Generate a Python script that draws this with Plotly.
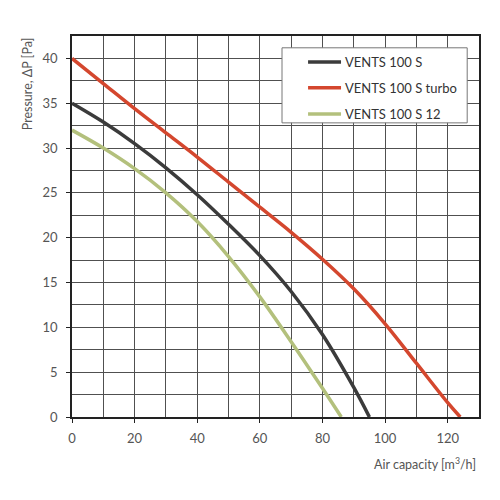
import plotly.graph_objects as go

# fan curves
x_100s = [0, 10, 20, 30, 40, 50, 60, 70, 80, 90, 95]
p_100s = [35, 32.9, 30.5, 27.8, 24.8, 21.5, 18.0, 14.0, 9.2, 3.3, 0]

x_turbo = [0, 10, 20, 30, 40, 50, 60, 70, 80, 90, 100, 110, 120, 124]
p_turbo = [40, 37.2, 34.4, 31.7, 29, 26.2, 23.4, 20.6, 17.6, 14.3, 10.4, 6.0, 1.6, 0]

x_12 = [0, 10, 20, 30, 40, 50, 60, 70, 80, 86]
p_12 = [32, 30.0, 27.7, 25.0, 21.8, 17.9, 13.4, 8.4, 3.2, 0]

names = ["VENTS 100 S", "VENTS 100 S turbo", "VENTS 100 S 12"]
colors = ["#3b3b3b", "#d4472e", "#b3c07c"]

fig = go.Figure()
for xs, ys, name, c in zip([x_100s, x_turbo, x_12], [p_100s, p_turbo, p_12], names, colors):
    fig.add_trace(go.Scatter(x=xs, y=ys, name=name, mode="lines", showlegend=False,
                             line=dict(color=c, width=3.5, shape="spline", smoothing=1.0)))

grid = "#505050"
fig.update_xaxes(range=[0, 130], dtick=20, tick0=0, showgrid=True, gridcolor=grid, gridwidth=1.2,
                 minor=dict(dtick=10, showgrid=True, gridcolor=grid, gridwidth=1.2),
                 showline=True, linecolor="#222", linewidth=1.6, mirror=True,
                 ticks="outside", ticklen=4, tickcolor="#222", zeroline=False,
                 ticklabelstandoff=5, tickfont=dict(size=13, color="#555"))
fig.update_yaxes(range=[0, 42.5], dtick=5, tick0=0, showgrid=True, gridcolor=grid, gridwidth=1.2,
                 minor=dict(dtick=2.5, showgrid=True, gridcolor=grid, gridwidth=1.2),
                 showline=True, linecolor="#222", linewidth=1.6, mirror=True,
                 ticks="outside", ticklen=4, tickcolor="#222", zeroline=False,
                 ticklabelstandoff=6, tickfont=dict(size=13, color="#555"))

fig.add_annotation(text="Pressure, ΔP [Pa]", xref="paper", yref="paper", x=-0.11, y=0.874,
                   xanchor="center", yanchor="middle",
                   textangle=-90, showarrow=False, font=dict(size=12.5, color="#555"))
fig.add_annotation(text="Air capacity [m<sup>3</sup>/h]", xref="paper", yref="paper", x=0.998, y=-0.121,
                   xanchor="right", yanchor="middle", showarrow=False, font=dict(size=12.5, color="#555"))

# legend box drawn by hand
fig.add_shape(type="rect", xref="paper", yref="paper", x0=0.516, x1=0.971, y0=0.772, y1=0.969,
              fillcolor="white", line=dict(color="#777", width=1), layer="above")
for name, c, yy in zip(names, colors, [0.932, 0.864, 0.795]):
    fig.add_shape(type="line", xref="paper", yref="paper", x0=0.580, x1=0.661, y0=yy, y1=yy,
                  line=dict(color=c, width=3.5), layer="above")
    fig.add_annotation(text=name, xref="paper", yref="paper", x=0.666, y=yy,
                       xanchor="left", yanchor="middle", showarrow=False,
                       font=dict(size=13, color="#333"))

fig.update_layout(
    width=492, height=492,
    margin=dict(l=64, r=21, t=28, b=83),
    paper_bgcolor="white", plot_bgcolor="white",
    font=dict(family="Lato, Open Sans, sans-serif", size=12, color="#555"),
)

fig.write_html("out.html")
